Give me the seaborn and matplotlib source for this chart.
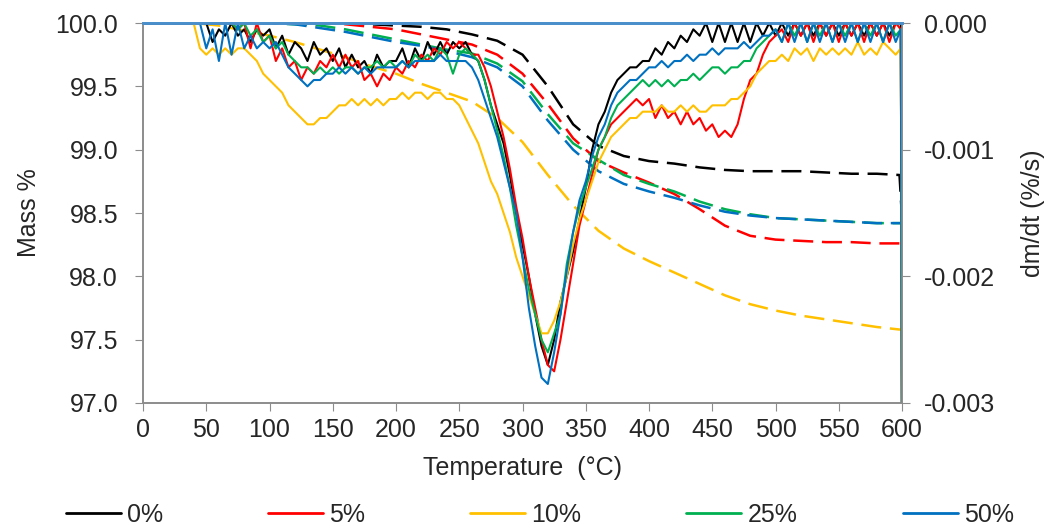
import numpy as np
import pandas as pd
import seaborn as sns
import matplotlib
matplotlib.use("Agg")
import matplotlib.pyplot as plt
from matplotlib.lines import Line2D
from matplotlib.ticker import FormatStrFormatter, MultipleLocator

# series
SERIES = ["0%", "5%", "10%", "25%", "50%"]
COLORS = ["#000000", "#FF0000", "#FFC000", "#00B050", "#0070C0"]

# mass % (dashed, left axis), read every 20 C
T_MASS = [0, 20, 40, 60, 80, 100, 120, 140, 160, 180, 200, 220, 240, 260, 280, 300,
          320, 340, 360, 380, 400, 420, 440, 460, 480, 500, 520, 540, 560, 580, 598, 600]
MASS_0 = [100, 100, 100, 100, 100, 100, 100, 100, 100, 99.99, 99.98, 99.97, 99.95, 99.91, 99.86, 99.75,
          99.5, 99.2, 99.03, 98.95, 98.91, 98.89, 98.86, 98.84, 98.83, 98.83, 98.83, 98.82, 98.81, 98.81, 98.8, 98.45]
MASS_5 = [100, 100, 100, 100, 100, 100, 100, 100, 99.99, 99.97, 99.95, 99.91, 99.87, 99.83, 99.75, 99.6,
          99.36, 99.09, 98.91, 98.82, 98.74, 98.65, 98.53, 98.4, 98.32, 98.29, 98.28, 98.27, 98.27, 98.26, 98.26, 98.26]
MASS_10 = [100, 100, 100, 99.98, 99.94, 99.9, 99.85, 99.79, 99.73, 99.66, 99.6, 99.52, 99.45, 99.38, 99.25, 99.06,
           98.8, 98.56, 98.36, 98.22, 98.12, 98.03, 97.94, 97.85, 97.78, 97.73, 97.69, 97.66, 97.63, 97.6, 97.58, 97.58]
MASS_25 = [100, 100, 100, 100, 100, 100, 99.99, 99.98, 99.95, 99.91, 99.87, 99.83, 99.79, 99.76, 99.68, 99.54,
           99.28, 99.05, 98.92, 98.8, 98.73, 98.67, 98.59, 98.53, 98.49, 98.46, 98.45, 98.44, 98.43, 98.42, 98.42, 98.42]
MASS_50 = [100, 100, 100, 100, 100, 100, 99.99, 99.96, 99.93, 99.89, 99.85, 99.82, 99.78, 99.73, 99.65, 99.5,
           99.23, 99.0, 98.83, 98.73, 98.67, 98.62, 98.56, 98.51, 98.48, 98.46, 98.45, 98.44, 98.43, 98.42, 98.42, 98.42]

# dm/dt in 1e-4 %/s (solid, right axis), read every 5 C, last two points 599 and 600
T_DTG = list(range(0, 600, 5)) + [599, 600]
DTG_0 = [0, 0, 0, 0, 0, 0, 0, 0, 0, 0,
         0, -1.5, -0.5, -1, 0, -1, -0.5, -1.5, -0.5, -1,
         -0.5, -2, -1, -2.5, -1.5, -2, -3, -1.5, -2.5, -2,
         -3, -2, -3.5, -2.5, -3.5, -3, -4, -2.5, -3.5, -3,
         -3, -2, -3.5, -2, -3, -1.5, -2.5, -1.5, -2.5, -1.5,
         -2, -1.5, -2.5, -3, -4.5, -6.5, -8, -9.5, -12, -15,
         -17.5, -20, -23, -25.5, -27, -25, -22, -20, -18, -15.5,
         -13, -10, -8, -7, -5.5, -4.5, -4, -3.5, -3.5, -3,
         -3, -2, -2.5, -1.5, -2, -1, -1.5, -0.5, -1, 0,
         -1.5, 0, -1.5, 0, -1.5, 0, -1.5, 0, -1, 0,
         -1, 0, -1, 0, -1, 0, -1, 0, -1, 0, -1, 0, -1, 0, -1, 0, -1, 0, -1, 0,
         0, -35]
DTG_5 = [0, 0, 0, 0, 0, 0, 0, 0, 0, 0,
         0, 0, 0, 0, 0, -0.5, 0, -2, 0, -1.5,
         -1, -3, -2, -3.5, -3, -4.5, -3.5, -4, -3, -3.5,
         -2.5, -3.5, -2.5, -3.5, -3, -4.5, -4, -5, -4, -4.5,
         -3.5, -4, -3, -3.5, -2.5, -3, -2, -2.5, -1.5, -2,
         -1.5, -2, -2.5, -2.5, -3.5, -5, -7, -9, -11.5, -14.5,
         -17, -20, -22.5, -25, -27, -27.5, -25, -22, -19, -16,
         -14, -12, -10, -9, -8, -7.5, -7, -6.5, -6, -6.5,
         -6, -7.5, -6.5, -7.5, -7, -8, -7, -8, -7.5, -8.5,
         -8, -9, -8.5, -9, -8, -6, -4.5, -4, -2.5, -1.5,
         -1, -0.5, -1.5, 0, -1, 0, -1.5, 0, -1, 0, -1.5, 0, -1, 0, -1.5, 0, -1, 0, -1.5, 0,
         -0.5, -35]
DTG_10 = [0, 0, 0, 0, 0, 0, 0, 0, 0, -2,
          -2.5, -2, -2.5, -2, -2.5, -2, -2, -2.5, -3, -4,
          -4.5, -5, -5.5, -6.5, -7, -7.5, -8, -8, -7.5, -7.5,
          -7, -6.5, -6.5, -6, -6.5, -6, -6.5, -6, -6.5, -6,
          -6, -5.5, -6, -5.5, -5.5, -6, -5.5, -5.5, -6, -6,
          -6.5, -7.5, -8.5, -9.5, -11, -12.5, -13.5, -15, -16.5, -18.5,
          -20, -21.5, -23, -24.5, -24.5, -23.5, -22, -20, -17.5, -15.5,
          -14, -12.5, -11, -10, -9, -8.5, -8, -7.5, -7.5, -7,
          -7, -7, -6.5, -7, -7, -6.5, -7, -6.5, -7, -7,
          -6.5, -6.5, -6.5, -6, -6, -5.5, -5, -4, -3.5, -3,
          -3, -2.5, -3, -2, -2.5, -2, -3, -2, -2.5, -2, -2.5, -2, -2.5, -1.5, -2.5, -2, -2.5, -1.5, -2, -2.5,
          -2, -35]
DTG_25 = [0, 0, 0, 0, 0, 0, 0, 0, 0, 0,
          0, 0, 0, 0, 0, -0.5, 0, -1, -0.5, -1.5,
          -1, -2, -1.5, -2.5, -3, -3.5, -3.5, -4, -3.5, -4,
          -3.5, -4, -3.5, -3.5, -4, -3.5, -3.5, -3, -3.5, -3,
          -3.5, -3, -3.5, -2.5, -3, -2.5, -3, -2, -2.5, -4,
          -2.5, -2, -2.5, -3, -4.5, -6.5, -8.5, -10.5, -13, -16,
          -18.5, -21, -23, -25, -26, -24.5, -23, -19, -16.5, -14.5,
          -13, -11.5, -10, -9, -7.5, -6.5, -6, -5.5, -5, -4.5,
          -5, -4.5, -5, -4.5, -5, -4.5, -4.5, -4, -4.5, -4,
          -3.5, -3.5, -4, -3.5, -3.5, -3, -3, -2, -1.5, -1,
          -0.5, -1.5, 0, -1, 0, -1.5, 0, -1, 0, -1.5, 0, -1, 0, -1.5, 0, -1, 0, -1.5, 0, -1,
          -0.5, -35]
DTG_50 = [0, 0, 0, 0, 0, 0, 0, 0, 0, 0,
          -2, -0.5, -3, 0, -2.5, 0, -2, -1, -2, -1.5,
          -2, -1.5, -2.5, -3.5, -4, -4.5, -5, -4.5, -4.5, -4,
          -4, -3.5, -4, -3.5, -4, -3.5, -4, -3.5, -3.5, -3.5,
          -3.5, -3, -3.5, -3, -3, -3, -3, -2.5, -3, -3,
          -3, -3, -3.5, -4.5, -6, -7.5, -9, -11, -13, -15,
          -18.5, -22.5, -25.5, -28, -28.5, -26, -23, -19.5, -16.5, -14,
          -12.5, -10.5, -9, -8, -6.5, -5.5, -5, -4.5, -4.5, -4,
          -3.5, -3.5, -3, -3.5, -3, -3, -2.5, -3, -2.5, -2.5,
          -2, -2.5, -2, -2, -2, -1.5, -2, -1.5, -1, -1,
          -0.5, -1.5, 0, -1.5, 0, -1.5, 0, -1.5, 0, -1.5, 0, -1.5, 0, -1.5, 0, -1.5, 0, -1.5, 0, -1.5,
          -0.5, -35]

MASS = [MASS_0, MASS_5, MASS_10, MASS_25, MASS_50]
DTG = [DTG_0, DTG_5, DTG_10, DTG_25, DTG_50]

mass_df = pd.concat([pd.DataFrame({"T": T_MASS, "mass": m, "series": s})
                     for s, m in zip(SERIES, MASS)], ignore_index=True)
dtg_df = pd.concat([pd.DataFrame({"T": T_DTG, "dtg": np.array(d) * 1e-4, "series": s})
                    for s, d in zip(SERIES, DTG)], ignore_index=True)

sns.set_style("ticks")
plt.rcParams["font.family"] = ["Liberation Sans", "DejaVu Sans"]
FS = 18
GREY = "#8c8c8c"

fig = plt.figure(figsize=(10.5, 5.29), dpi=100)
ax = fig.add_axes([0.1362, 0.2382, 0.7229, 0.7183])
ax2 = ax.twinx()

sns.lineplot(data=mass_df, x="T", y="mass", hue="series", hue_order=SERIES, palette=COLORS,
             sort=False, legend=False, linewidth=1.8, linestyle=(0, (8, 3.5)), ax=ax)
sns.lineplot(data=dtg_df, x="T", y="dtg", hue="series", hue_order=SERIES, palette=COLORS,
             sort=False, legend=False, linewidth=1.5, ax=ax2)

ax.set_xlim(0, 600)
ax.set_ylim(97.0, 100.0)
ax2.set_ylim(-0.003, 0.0)
ax.xaxis.set_major_locator(MultipleLocator(50))
ax.yaxis.set_major_locator(MultipleLocator(0.5))
ax.yaxis.set_major_formatter(FormatStrFormatter("%.1f"))
ax2.yaxis.set_major_locator(MultipleLocator(0.001))
ax2.yaxis.set_major_formatter(FormatStrFormatter("%.3f"))

ax.set_xlabel("Temperature  (°C)", fontsize=FS, labelpad=10)
ax.set_ylabel("Mass %", fontsize=FS, labelpad=10)
ax2.set_ylabel("dm/dt (%/s)", fontsize=FS, labelpad=18)

ax.tick_params(axis="x", labelsize=FS, length=6, color=GREY, pad=5)
ax.tick_params(axis="y", labelsize=FS, length=6, color=GREY, pad=12)
ax2.tick_params(axis="y", labelsize=FS, length=6, color=GREY, pad=10)

for a in (ax, ax2):
    for side in ("left", "bottom", "right"):
        a.spines[side].set_visible(True)
        a.spines[side].set_color(GREY)
        a.spines[side].set_linewidth(1.2)
    a.spines["top"].set_visible(True)
    a.spines["top"].set_color("#4a8fcb")
    a.spines["top"].set_linewidth(2)

handles = [Line2D([0], [0], color=c, lw=2) for c in COLORS]
fig.legend(handles, SERIES, loc="center", bbox_to_anchor=(0.514, 0.026), ncol=5,
           frameon=False, fontsize=FS, handlelength=2.2, handletextpad=0.25,
           columnspacing=4.2)

fig.savefig("out.png", dpi=100)
